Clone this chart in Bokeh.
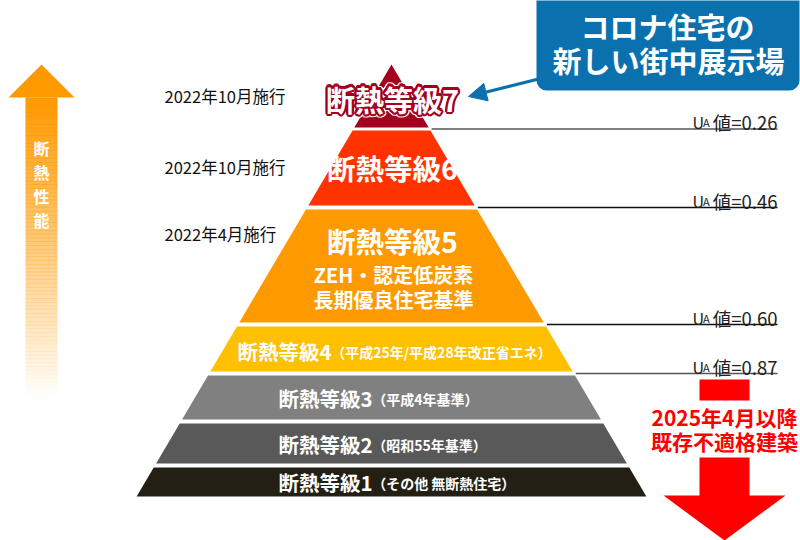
import numpy as np
from bokeh.plotting import figure
from bokeh.models import Range1d, Arrow, NormalHead
from bokeh.core.properties import value
from bokeh.embed import file_html
from bokeh.resources import INLINE

# データ
grades = ["断熱等級7", "断熱等級6", "断熱等級5", "断熱等級4", "断熱等級3", "断熱等級2", "断熱等級1"]
grade_notes = ["", "", "", "（平成25年/平成28年改正省エネ）", "（平成4年基準）", "（昭和55年基準）", "（その他 無断熱住宅）"]
grade5_detail = ["ZEH・認定低炭素", "長期優良住宅基準"]
enforced = ["2022年10月施行", "2022年10月施行", "2022年4月施行"]
ua_values = [0.26, 0.46, 0.60, 0.87]
callout = ["コロナ住宅の", "新しい街中展示場"]
deadline = ["2025年4月以降", "既存不適格建築"]
perf_label = "断熱性能"

# レイアウト（画素座標、上が0）
band_top = [64, 130, 209, 326, 375, 423, 467]
band_bottom = [127, 205, 322, 371, 419, 463, 496]
band_colors = ["#a3001e", "#ff3300", "#ff9900", "#ffc000", "#808080", "#595959", "#231f14"]
apex_x, apex_y, slope = 391, 64, 0.59
FONT = value("Noto Sans CJK JP")
W, H = 800, 540


def hw(y):
    return (y - apex_y) * slope


p = figure(width=W, height=H, x_range=Range1d(0, W), y_range=Range1d(H, 0),
           output_backend="svg", toolbar_location=None,
           x_axis_location=None, y_axis_location=None, min_border=0)
p.grid.visible = False
p.outline_line_color = None
p.background_fill_color = "white"
p.border_fill_color = "white"

# ピラミッド
xs, ys = [], []
for t, b in zip(band_top, band_bottom):
    xs.append([apex_x - hw(t), apex_x + hw(t), apex_x + hw(b), apex_x - hw(b)])
    ys.append([t, t, b, b])
p.patches(xs, ys, fill_color=band_colors, line_color=None)

# UA値の線とラベル
line_y = [(band_bottom[i] + band_top[i + 1]) / 2 for i in range(4)]
line_colors = ["#555555", "#111111", "#111111", "#555555"]
for y, c in zip(line_y, line_colors):
    p.segment(x0=[apex_x + hw(y) + 2], y0=[y], x1=[777], y1=[y], line_color=c, line_width=1.5)
base_y = [y - 7 for y in line_y]
p.text(x=[692] * 4, y=base_y, text=["U"] * 4, text_font=FONT, text_font_size=value("16px"),
       text_color="#222222", text_baseline="alphabetic")
p.text(x=[702.5] * 4, y=base_y, text=["A"] * 4, text_font=FONT, text_font_size=value("11px"),
       text_color="#222222", text_baseline="alphabetic")
p.text(x=[777] * 4, y=base_y, text=[f"値={v:.2f}" for v in ua_values], text_font=FONT,
       text_font_size=value("18.5px"), text_color="#222222", text_baseline="alphabetic",
       text_align="right")

# 施行時期
p.text(x=[164] * 3, y=[95, 166, 233], text=enforced, text_font=FONT, text_font_size=value("16.5px"),
       text_color="#111111", text_baseline="middle")

# 等級7（縁取り文字）
for r, col in [(3.5, "white"), (2.2, "#a3001e")]:
    for ang in np.linspace(0, 2 * np.pi, 16, endpoint=False):
        p.text(x=[392], y=[98], text=[grades[0]], x_offset=r * np.cos(ang), y_offset=r * np.sin(ang),
               text_font=FONT, text_font_style="bold", text_font_size=value("29px"),
               text_color=col, text_align="center", text_baseline="middle")
p.text(x=[392], y=[98], text=[grades[0]], text_font=FONT, text_font_style="bold",
       text_font_size=value("29px"), text_color="white", text_align="center", text_baseline="middle")

# 等級6・5
p.text(x=[392, 392], y=[167, 240], text=grades[1:3], text_font=FONT, text_font_style="bold",
       text_font_size=value("28.5px"), text_color="white", text_align="center", text_baseline="middle")
p.text(x=[393, 393], y=[274, 299], text=grade5_detail, text_font=FONT, text_font_style="bold",
       text_font_size=value("20px"), text_color="white", text_align="center", text_baseline="middle")

# 等級4〜1
row_x = [237, 278, 278, 278]
row_y = [350, 397, 443, 481]
main_fs = 20.5
p.text(x=row_x, y=row_y, text=grades[3:], text_font=FONT, text_font_style="bold",
       text_font_size=value(f"{main_fs}px"), text_color="white", text_baseline="middle")
p.text(x=[x + 4.57 * main_fs for x in row_x], y=[y + 1 for y in row_y], text=grade_notes[3:],
       text_font=FONT, text_font_style="bold", text_font_size=value("14px"),
       text_color="white", text_baseline="middle")

# 断熱性能の矢印（グラデーション）
p.patch([8, 74, 41], [97, 97, 64], fill_color="#ff9900", line_color=None)
edges = np.linspace(97, 400, 81)
p.quad(left=25, right=57, top=edges[:-1], bottom=edges[1:] + 0.5, fill_color="#ff9900",
       fill_alpha=np.linspace(1.0, 0.0, 80), line_color=None)
p.text(x=[41] * 4, y=[147, 171, 195, 219], text=list(perf_label), text_font=FONT,
       text_font_style="bold", text_font_size=value("16px"), text_color="white",
       text_align="center", text_baseline="middle")

# コロナ住宅の吹き出し
p.quad(left=536, right=799, top=-12, bottom=90, fill_color="#0b70ae", line_color=None,
       border_radius=10)
p.text(x=[667, 668], y=[25, 59], text=callout, text_font=FONT, text_font_style="bold",
       text_font_size=value("29px"), text_color="white", text_align="center", text_baseline="middle")
p.add_layout(Arrow(end=NormalHead(size=18, fill_color="#0b70ae", line_color="#0b70ae"),
                   x_start=540, y_start=78, x_end=468, y_end=96,
                   line_color="#0b70ae", line_width=3))

# 2025年4月以降の赤矢印
p.quad(left=699, right=749, top=[379, 457], bottom=[400, 496], fill_color="#ff0000", line_color=None)
p.patch([663, 785, 724], [495, 495, 540], fill_color="#ff0000", line_color=None)
p.text(x=[724, 724], y=[416, 440], text=deadline, text_font=FONT, text_font_style="bold",
       text_font_size=value("21px"), text_color="#ff0000", text_align="center", text_baseline="middle")

open("out.html", "w").write(file_html(p, INLINE))
